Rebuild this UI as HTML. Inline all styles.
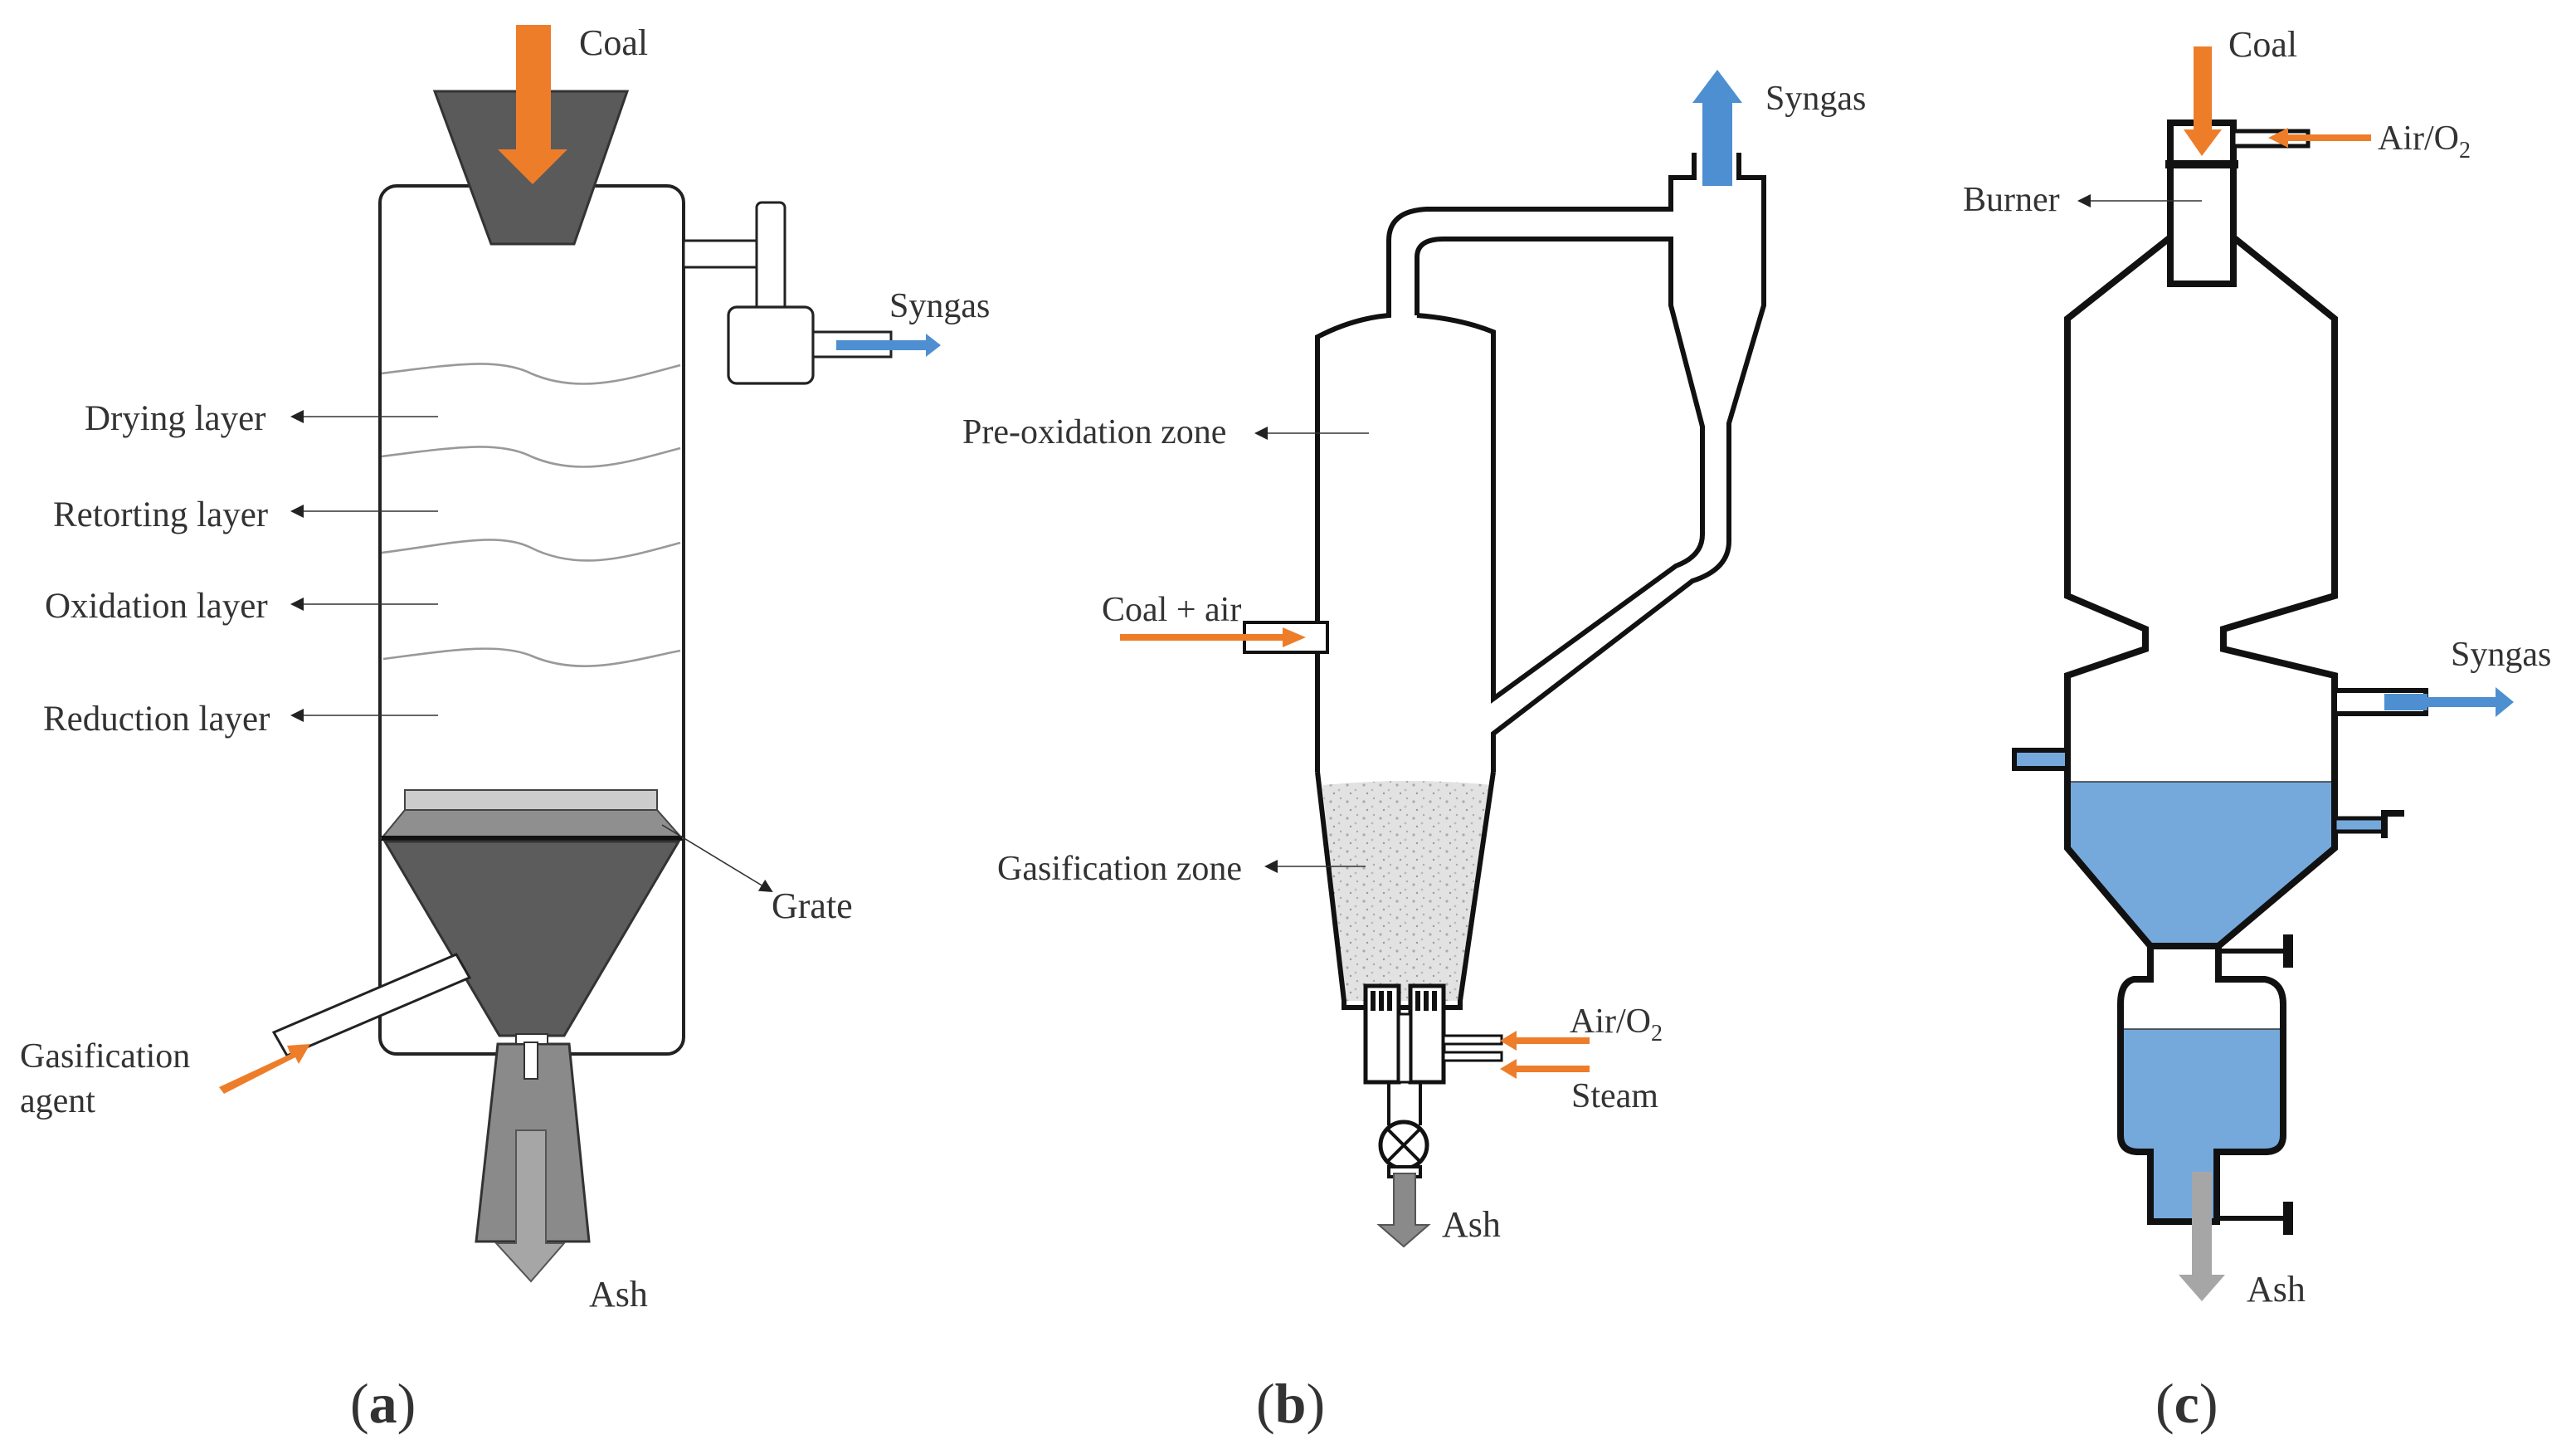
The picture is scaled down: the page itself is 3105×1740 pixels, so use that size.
<!DOCTYPE html>
<html><head><meta charset="utf-8"><style>
html,body{margin:0;padding:0;background:#fff}
svg{display:block}
text{font-family:"Liberation Serif",serif;fill:#333}
</style></head><body>
<svg width="3105" height="1740" viewBox="0 0 1552.5 870" preserveAspectRatio="none">
<defs>
<marker id="ah" markerWidth="8" markerHeight="8" refX="7" refY="4" orient="auto" markerUnits="userSpaceOnUse"><path d="M0,0 L8,4 L0,8 Z" fill="#222"/></marker>
<pattern id="sp" width="10" height="10" patternUnits="userSpaceOnUse"><rect width="10" height="10" fill="#e2e2e2"/><circle cx="2" cy="3" r="0.8" fill="#aaa"/><circle cx="7" cy="6" r="0.7" fill="#bbb"/><circle cx="4" cy="8" r="0.6" fill="#999"/><circle cx="8" cy="1" r="0.6" fill="#aaa"/></pattern>
</defs>

<!-- ===== Panel (a) ===== -->
<rect x="229" y="112" width="183" height="523" rx="10" fill="#fff" stroke="#222" stroke-width="2"/>
<g fill="none" stroke="#999" stroke-width="1.3">
<path d="M230,225 C270,220 300,215 320,225 C350,238 380,228 410,220"/>
<path d="M230,275 C270,270 300,265 320,275 C350,288 380,278 410,270"/>
<path d="M230,333 C270,328 300,320 320,330 C350,345 380,335 410,327"/>
<path d="M231,397 C270,392 300,387 320,395 C350,408 380,398 410,392"/>
</g>
<g stroke="#333" stroke-width="0.8">
<line x1="264" y1="251" x2="176" y2="251" marker-end="url(#ah)"/>
<line x1="264" y1="308" x2="176" y2="308" marker-end="url(#ah)"/>
<line x1="264" y1="364" x2="176" y2="364" marker-end="url(#ah)"/>
<line x1="264" y1="431" x2="176" y2="431" marker-end="url(#ah)"/>
</g>
<text x="51" y="259" font-size="21.5">Drying layer</text>
<text x="32" y="317" font-size="21.5">Retorting layer</text>
<text x="27" y="372" font-size="21.5">Oxidation layer</text>
<text x="26" y="440" font-size="21.5">Reduction layer</text>
<!-- hopper -->
<polygon points="262,55 378,55 346,147 296,147" fill="#5a5a5a" stroke="#333" stroke-width="1.5"/>
<polygon points="311,15 332,15 332,90 342,90 321,111 300,90 311,90" fill="#ee7d2a"/>
<text x="349" y="33" font-size="22">Coal</text>
<!-- syngas outlet -->
<rect x="412" y="145" width="48" height="16" fill="#fff" stroke="#222" stroke-width="1.5"/>
<rect x="456" y="122" width="17" height="66" rx="3" fill="#fff" stroke="#222" stroke-width="1.5"/>
<rect x="439" y="185" width="51" height="46" rx="5" fill="#fff" stroke="#222" stroke-width="1.6"/>
<rect x="490" y="200" width="47" height="15" fill="#fff" stroke="#222" stroke-width="1.5"/>
<polygon points="504,205 558,205 558,201 567,208 558,215 558,211 504,211" fill="#4d8fd1"/>
<text x="536" y="191" font-size="21">Syngas</text>
<!-- grate -->
<rect x="244" y="476" width="152" height="12" fill="#ccc" stroke="#444" stroke-width="1"/>
<polygon points="244,488 396,488 411,505 230,505" fill="#8f8f8f" stroke="#444" stroke-width="1"/>
<line x1="230" y1="505" x2="411" y2="505" stroke="#111" stroke-width="3"/>
<polygon points="232,507 409,507 340,624 301,624" fill="#5c5c5c" stroke="#333" stroke-width="1.5"/>
<line x1="399" y1="497" x2="465" y2="537" stroke="#333" stroke-width="0.8" marker-end="url(#ah)"/>
<text x="465" y="553" font-size="22">Grate</text>
<!-- agent pipe -->
<polygon points="165,622 275,575 283,589 173,636" fill="#fff" stroke="#222" stroke-width="1.5"/>
<polygon points="132,655 175,635 173,630 187,629 180,641 178,637 135,659" fill="#ee7d2a"/>
<text x="12" y="643" font-size="21">Gasification</text>
<text x="12" y="670" font-size="21">agent</text>
<!-- ash hood -->
<polygon points="300,629 343,629 355,748 287,748" fill="#8a8a8a" stroke="#333" stroke-width="1.5"/>
<rect x="311" y="623" width="19" height="6" fill="#fff" stroke="#333" stroke-width="1"/>
<rect x="316" y="628" width="8" height="22" fill="#fff" stroke="#333" stroke-width="1"/>
<polygon points="311,681 329,681 329,749 340,749 320,772 299,749 311,749" fill="#a6a6a6" stroke="#555" stroke-width="1"/>
<text x="355" y="787" font-size="22">Ash</text>
<text x="211" y="857" font-size="34">(<tspan font-weight="bold">a</tspan>)</text>

<!-- ===== Panel (b) ===== -->
<g fill="none" stroke="#111" stroke-width="3">
<path d="M794,465 L794,203 Q815,192 837,190 L837,145 Q837,127 860,126 L1007,126 L1007,107 L1021,107 L1021,92"/>
<path d="M1048,92 L1048,107 L1063,107 L1063,184 L1042,255 L1042,326 Q1042,343 1020,350 L900,442 L900,465"/>
<path d="M854,190 L854,155 Q854,144 870,144 L1007,144 L1007,184 L1026,257 L1026,322 Q1026,335 1010,341 L900,421 L900,200 Q880,192 854,190"/>
</g>
<path d="M794,465 L810,603 L810,607 L880,607 L880,603 L900,465" fill="#fff" stroke="none"/>
<path d="M797,473 Q850,468 899,473 L880,603 L810,603 Z" fill="url(#sp)"/>
<path d="M794,465 L810,603 L810,607 L880,607 L880,603 L900,465" fill="none" stroke="#111" stroke-width="3"/>
<rect x="1026" y="60" width="18" height="52" fill="#4d8fd1"/>
<polygon points="1020,62 1035,42 1050,62" fill="#4d8fd1"/>
<text x="1064" y="66" font-size="21">Syngas</text>
<!-- coal+air -->
<rect x="750" y="375" width="50" height="18" fill="#fff" stroke="#111" stroke-width="2"/>
<line x1="675" y1="384" x2="775" y2="384" stroke="#ee7d2a" stroke-width="4"/>
<polygon points="773,378 787,384 773,390" fill="#ee7d2a"/>
<text x="664" y="374" font-size="21">Coal + air</text>
<line x1="825" y1="261" x2="757" y2="261" stroke="#333" stroke-width="0.8" marker-end="url(#ah)"/>
<text x="580" y="267" font-size="21">Pre-oxidation zone</text>
<line x1="823" y1="522" x2="763" y2="522" stroke="#333" stroke-width="0.8" marker-end="url(#ah)"/>
<text x="601" y="530" font-size="21">Gasification zone</text>
<!-- bottom boxes -->
<rect x="823" y="594" width="20" height="58" fill="#fff" stroke="#111" stroke-width="2.5"/>
<rect x="850" y="594" width="20" height="58" fill="#fff" stroke="#111" stroke-width="2.5"/>
<rect x="843" y="611" width="7" height="41" fill="#fff" stroke="#111" stroke-width="1.5"/>
<g fill="#111"><rect x="826" y="597" width="3" height="12"/><rect x="831" y="597" width="3" height="12"/><rect x="836" y="597" width="3" height="12"/><rect x="853" y="597" width="3" height="12"/><rect x="858" y="597" width="3" height="12"/><rect x="863" y="597" width="3" height="12"/></g>
<rect x="870" y="624" width="35" height="5" fill="#fff" stroke="#111" stroke-width="1.5"/>
<rect x="870" y="634" width="35" height="5" fill="#fff" stroke="#111" stroke-width="1.5"/>
<line x1="912" y1="627" x2="958" y2="627" stroke="#ee7d2a" stroke-width="4"/>
<polygon points="914,621 904,627 914,633" fill="#ee7d2a"/>
<line x1="912" y1="644" x2="958" y2="644" stroke="#ee7d2a" stroke-width="4"/>
<polygon points="914,638 904,644 914,650" fill="#ee7d2a"/>
<text x="946" y="622" font-size="21">Air/O<tspan font-size="14" dy="5">2</tspan></text>
<text x="947" y="667" font-size="21">Steam</text>
<!-- valve -->
<line x1="837" y1="652" x2="837" y2="678" stroke="#111" stroke-width="2"/>
<line x1="856" y1="652" x2="856" y2="678" stroke="#111" stroke-width="2"/>
<circle cx="846" cy="690" r="14" fill="#fff" stroke="#111" stroke-width="2.5"/>
<line x1="836" y1="680" x2="856" y2="700" stroke="#111" stroke-width="2"/>
<line x1="856" y1="680" x2="836" y2="700" stroke="#111" stroke-width="2"/>
<rect x="837" y="703" width="19" height="6" fill="#fff" stroke="#111" stroke-width="2"/>
<polygon points="840,707 853,707 853,738 861,738 846,751 831,738 840,738" fill="#8a8a8a" stroke="#555" stroke-width="1"/>
<text x="869" y="745" font-size="22">Ash</text>
<text x="757" y="857" font-size="34">(<tspan font-weight="bold">b</tspan>)</text>

<!-- ===== Panel (c) ===== -->
<g transform="translate(-11,0)">
<polygon points="1257,471 1418,471 1418,511 1348,570 1307,570 1257,511" fill="#75a9dc"/>
<line x1="1257" y1="471" x2="1418" y2="471" stroke="#333" stroke-width="0.8"/>
<rect x="1289" y="620" width="98" height="75" rx="10" fill="#75a9dc"/>
<rect x="1289" y="620" width="98" height="20" fill="#75a9dc"/>
<rect x="1307" y="690" width="40" height="46" fill="#75a9dc"/>
<line x1="1290" y1="620" x2="1386" y2="620" stroke="#333" stroke-width="0.8"/>
<g fill="none" stroke="#111" stroke-width="4" stroke-linejoin="miter">
<path d="M1319,143 L1257,192 L1257,359 L1304,379 L1304,391 L1257,407 L1257,511 L1307,570 L1348,570 L1418,511 L1418,407 L1351,391 L1351,379 L1418,359 L1418,192 L1357,143"/>
<path d="M1307,570 L1307,590 L1297,590 Q1289,592 1289,605 L1289,684 Q1289,694 1300,694 L1307,694 L1307,736 L1347,736 L1347,694 L1376,694 Q1387,694 1387,684 L1387,605 Q1387,592 1376,590 L1348,590 L1348,570"/>
</g>
<rect x="1319" y="74" width="38" height="97" fill="#fff" stroke="#111" stroke-width="4"/>
<line x1="1316" y1="99" x2="1360" y2="99" stroke="#111" stroke-width="5"/>
<rect x="1357" y="79" width="45" height="9" fill="#fff" stroke="#111" stroke-width="2.5"/>
<line x1="1385" y1="83" x2="1440" y2="83" stroke="#ee7d2a" stroke-width="4"/>
<polygon points="1390,77 1378,83 1390,89" fill="#ee7d2a"/>
<polygon points="1333,28 1344,28 1344,78 1350,78 1338,94 1327,78 1333,78" fill="#ee7d2a"/>
<text x="1354" y="34" font-size="22">Coal</text>
<text x="1444" y="90" font-size="21">Air/O<tspan font-size="14" dy="5">2</tspan></text>
<line x1="1338" y1="121" x2="1264" y2="121" stroke="#333" stroke-width="0.8" marker-end="url(#ah)"/>
<text x="1194" y="127" font-size="21">Burner</text>
<rect x="1418" y="416" width="55" height="14" fill="#fff" stroke="#111" stroke-width="3"/>
<rect x="1448" y="418" width="26" height="10" fill="#4d8fd1"/>
<polygon points="1470,420 1515,420 1515,414 1526,423 1515,432 1515,426 1470,426" fill="#4d8fd1"/>
<text x="1488" y="401" font-size="21">Syngas</text>
<rect x="1225" y="452" width="32" height="11" fill="#75a9dc" stroke="#111" stroke-width="3"/>
<rect x="1418" y="493" width="30" height="8" fill="#75a9dc" stroke="#111" stroke-width="2.5"/>
<line x1="1448" y1="490" x2="1460" y2="490" stroke="#111" stroke-width="4"/>
<line x1="1448" y1="488" x2="1448" y2="505" stroke="#111" stroke-width="4"/>
<line x1="1348" y1="573" x2="1390" y2="573" stroke="#111" stroke-width="3"/>
<line x1="1390" y1="563" x2="1390" y2="583" stroke="#111" stroke-width="6"/>
<line x1="1347" y1="734" x2="1390" y2="734" stroke="#111" stroke-width="3"/>
<line x1="1390" y1="724" x2="1390" y2="744" stroke="#111" stroke-width="6"/>
<polygon points="1332,706 1344,706 1344,768 1352,768 1338,784 1324,768 1332,768" fill="#a6a6a6"/>
<text x="1365" y="784" font-size="22">Ash</text>
<text x="1310" y="857" font-size="34">(<tspan font-weight="bold">c</tspan>)</text>
</g>
</svg>
</body></html>
